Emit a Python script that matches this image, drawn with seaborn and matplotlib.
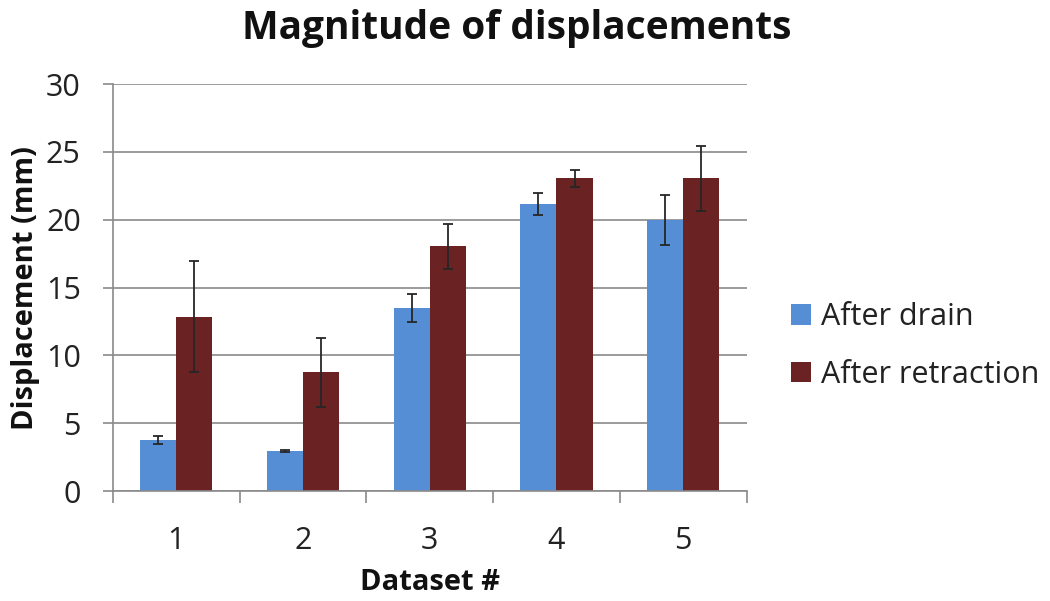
import numpy as np
import pandas as pd
import matplotlib
matplotlib.use("Agg")
import matplotlib.pyplot as plt
import seaborn as sns
from matplotlib.patches import Patch

datasets = ["1", "2", "3", "4", "5"]
series = ["After drain", "After retraction"]
after_drain = [3.75, 2.95, 13.5, 21.15, 20.0]
after_drain_err = [0.32, 0.1, 1.05, 0.8, 1.85]
after_retraction = [12.85, 8.75, 18.05, 23.05, 23.05]
after_retraction_err = [4.1, 2.55, 1.65, 0.6, 2.4]
colors = ["#558ed5", "#6b2222"]

sns.set_theme(style="white")
plt.rcParams['font.family'] = ['Open Sans', 'DejaVu Sans']

df = pd.DataFrame({
    "Dataset": datasets * 2,
    "Series": [series[0]] * 5 + [series[1]] * 5,
    "Value": after_drain + after_retraction,
    "Err": after_drain_err + after_retraction_err,
})

fig = plt.figure(figsize=(10.5, 6.01), dpi=100)
ax = fig.add_axes([0.1076, 0.183, 0.6034, 0.677])

sns.barplot(data=df, x="Dataset", y="Value", hue="Series", palette=colors,
            errorbar=None, width=0.57, saturation=1, ax=ax, legend=False,
            linewidth=0)

# error bars at bar centres
for cont, vals, errs in zip(ax.containers, [after_drain, after_retraction],
                            [after_drain_err, after_retraction_err]):
    xs = [p.get_x() + p.get_width() / 2 for p in cont.patches]
    ax.errorbar(xs, vals, yerr=errs, fmt="none", ecolor="#262626",
                elinewidth=1.3, capsize=3.6, capthick=1.3, zorder=5)

ax.set_ylim(0, 30)
ax.set_xlim(-0.5, 4.5)
ax.set_yticks([0, 5, 10, 15, 20, 25, 30])
ax.yaxis.grid(True, color="#8a8a8a", linewidth=1.2)
ax.set_axisbelow(True)
for s in ["top", "right"]:
    ax.spines[s].set_visible(False)
for s in ["left", "bottom"]:
    ax.spines[s].set_color("#8a8a8a")
    ax.spines[s].set_linewidth(1.2)

ax.tick_params(axis="y", which="major", left=True, length=7.2, width=1.2,
               color="#8a8a8a", labelsize=22, labelcolor="#222222", pad=16)
ax.tick_params(axis="x", which="major", bottom=False, labelsize=22,
               labelcolor="#222222", pad=19)
ax.set_xticks(np.arange(-0.5, 5.0, 1.0), minor=True)
ax.tick_params(axis="x", which="minor", bottom=True, length=8.6, width=1.2,
               color="#8a8a8a")

ax.set_xlabel("Dataset #", fontsize=21, fontweight="bold", labelpad=9,
              color="#111111")
ax.set_ylabel("Displacement (mm)", fontsize=21, fontweight="bold", labelpad=4,
              color="#111111")
fig.suptitle("Magnitude of displacements", fontsize=28, fontweight="bold",
             x=0.492, y=0.985, color="#111111")

handles = [Patch(facecolor=c, edgecolor="none") for c in colors]
fig.legend(handles, series, loc="center left", bbox_to_anchor=(0.727, 0.424),
           frameon=False, fontsize=22, handlelength=0.66, handleheight=0.66,
           handletextpad=0.32, labelspacing=0.9, labelcolor="#222222")

fig.savefig("out.png", dpi=100)
